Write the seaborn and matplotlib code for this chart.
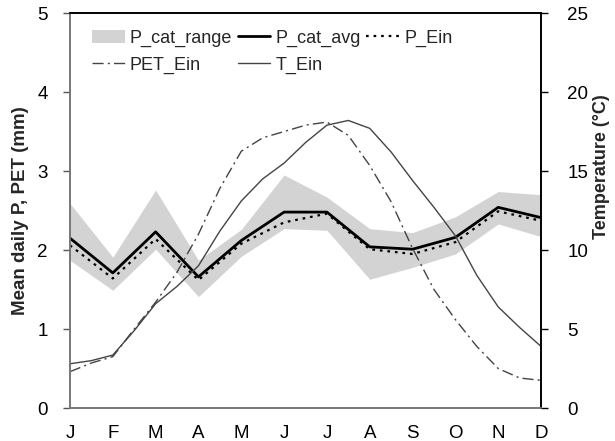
"""Monthly precipitation, PET and temperature plot"""

import matplotlib.pyplot as plt
import numpy as np
import pandas as pd
import seaborn as sns

months = ['J', 'F', 'M', 'A', 'M', 'J', 'J', 'A', 'S', 'O', 'N', 'D']

# monthly values (mm/day)
p_cat_avg = [2.15, 1.71, 2.23, 1.66, 2.12, 2.48, 2.48, 2.04, 2.01, 2.16, 2.54, 2.41]
p_ein = [2.06, 1.64, 2.14, 1.62, 2.08, 2.35, 2.46, 2.01, 1.95, 2.10, 2.49, 2.37]
p_range_low = [1.87, 1.49, 2.01, 1.41, 1.92, 2.27, 2.25, 1.63, 1.78, 1.95, 2.33, 2.17]
p_range_high = [2.59, 1.91, 2.76, 1.87, 2.26, 2.95, 2.67, 2.27, 2.22, 2.42, 2.74, 2.70]

# half-month readings of the daily series
pet_ein = [0.46, 0.57, 0.65, 1.00, 1.34, 1.72, 2.20, 2.78, 3.25, 3.42, 3.50, 3.58,
           3.62, 3.45, 3.07, 2.61, 2.02, 1.50, 1.12, 0.78, 0.50, 0.38, 0.35]
t_ein = [2.8, 3.0, 3.35, 4.9, 6.6, 7.7, 9.0, 11.2, 13.1, 14.5, 15.5, 16.8,
         17.9, 18.2, 17.7, 16.2, 14.4, 12.7, 10.9, 8.4, 6.4, 5.1, 3.9]

monthly = pd.DataFrame({'m': np.arange(12), 'avg': p_cat_avg, 'ein': p_ein,
                        'lo': p_range_low, 'hi': p_range_high})
daily = pd.DataFrame({'m': np.arange(len(pet_ein)) * 0.5, 'pet': pet_ein, 't': t_ein})

sns.set_style('white')
plt.rcParams['font.family'] = ['Liberation Sans', 'DejaVu Sans']

fig = plt.figure(figsize=(6.15, 4.41), dpi=100)
ax = fig.add_axes([0.1138, 0.0748, 0.7659, 0.8957])
ax2 = ax.twinx()

ax.fill_between(monthly['m'], monthly['lo'], monthly['hi'], color='#d3d3d3',
                linewidth=0, label='P_cat_range')
sns.lineplot(data=monthly, x='m', y='avg', ax=ax, color='black', linewidth=2,
             label='P_cat_avg', legend=False)
sns.lineplot(data=monthly, x='m', y='ein', ax=ax, color='black', linewidth=1.6,
             linestyle=(0, (1.2, 2.2)), label='P_Ein', legend=False)
sns.lineplot(data=daily, x='m', y='pet', ax=ax, color='#444444', linewidth=1,
             linestyle=(0, (8, 3, 1.5, 3)), label='PET_Ein', legend=False)
sns.lineplot(data=daily, x='m', y='t', ax=ax2, color='#444444', linewidth=1,
             label='T_Ein', legend=False)

ax.set_xlim(0, 11)
ax.set_ylim(0, 5)
ax2.set_ylim(0, 25)
ax.set_xticks(range(12))
ax.set_xticklabels(months)
ax.set_yticks(range(6))
ax2.set_yticks(range(0, 26, 5))
ax.set_xlabel('')
ax.set_ylabel('Mean daily P, PET (mm)', fontsize=13.5, fontweight='bold', labelpad=6)
ax2.set_ylabel('Temperature (\u00b0C)', fontsize=13, fontweight='bold')
ax2.yaxis.set_label_coords(1.11, 0.61)

for a in (ax, ax2):
    a.tick_params(direction='out', length=5, width=1, labelsize=13.5, colors='black')
    a.grid(False)
ax.tick_params(axis='x', pad=7)
ax.tick_params(axis='y', pad=11)
ax2.tick_params(axis='y', pad=14)

for a in (ax, ax2):
    a.spines['left'].set_color('#777777')
    a.spines['bottom'].set_color('#777777')
    a.spines['right'].set_color('black')
    a.spines['top'].set_color('black')
    for s in a.spines.values():
        s.set_linewidth(1.2)
ax.tick_params(axis='both', color='#555555')

h1, l1 = ax.get_legend_handles_labels()
h2, l2 = ax2.get_legend_handles_labels()
hd = dict(zip(l1 + l2, h1 + h2))
order = ['P_cat_range', 'PET_Ein', 'P_cat_avg', 'T_Ein', 'P_Ein']
ax.legend([hd[k] for k in order], order, ncol=3, loc='upper left', frameon=False,
          fontsize=13, bbox_to_anchor=(0.02, 0.99), handlelength=1.8,
          handletextpad=0.3, columnspacing=0.3, labelspacing=0.55,
          borderaxespad=0.3)

fig.savefig('out.png', dpi=100)
